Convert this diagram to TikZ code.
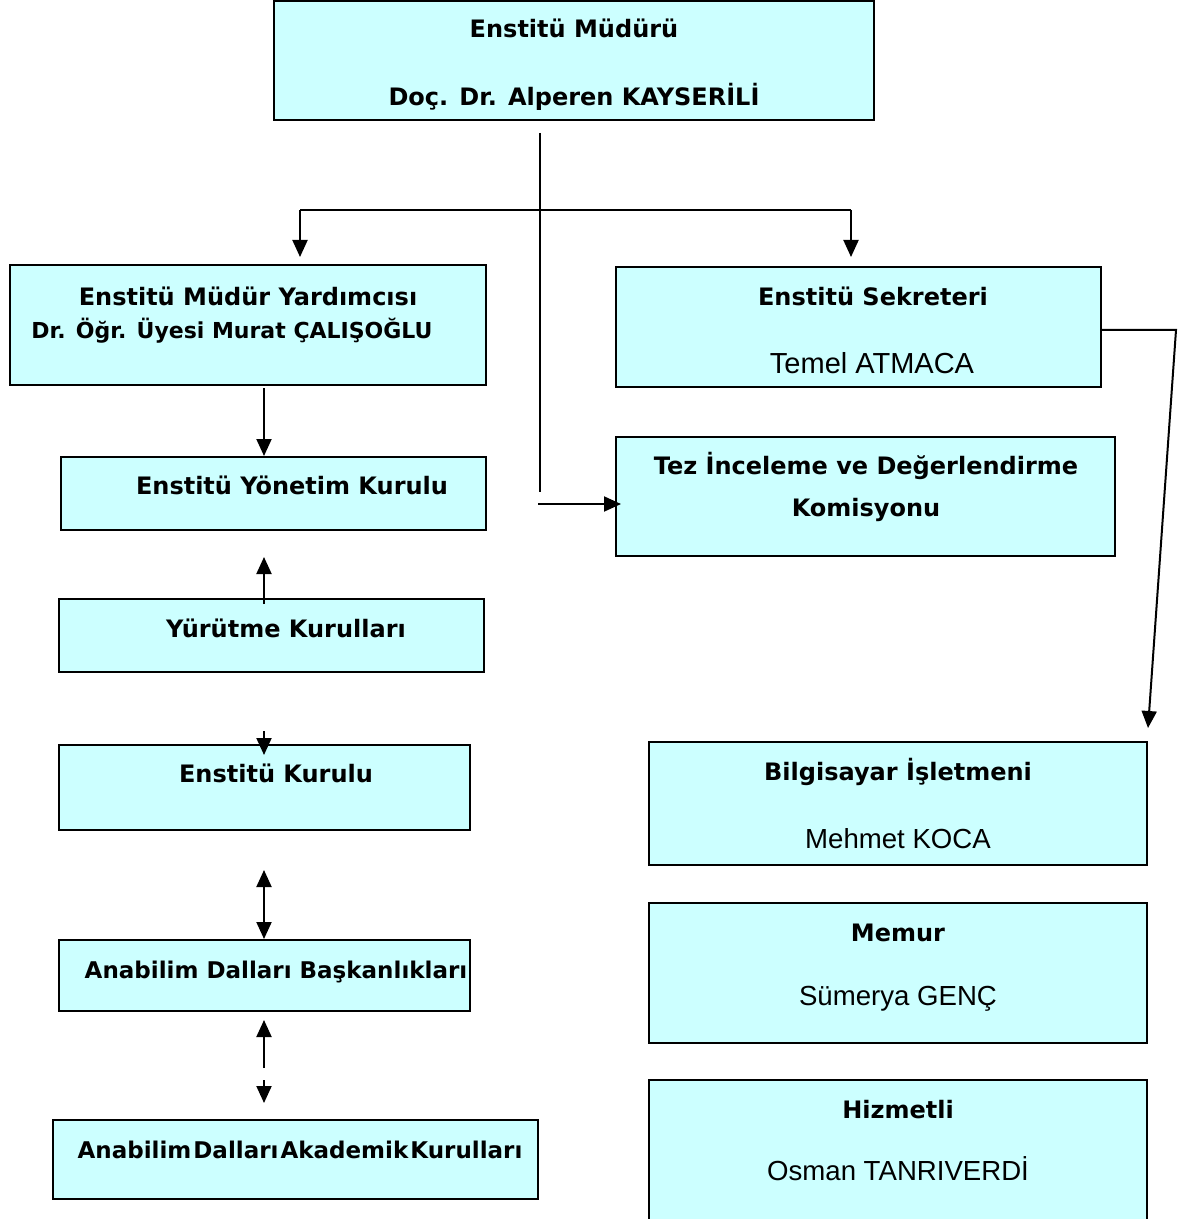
\documentclass[tikz,border=0pt]{standalone}
\usepackage{fontspec}
\setmainfont{DejaVu Sans}
\newfontfamily\arialf{Liberation Sans}
\usetikzlibrary{arrows.meta,fit}
\definecolor{boxfill}{HTML}{CCFFFF}
\begin{document}
\begin{tikzpicture}[x=0.5pt,y=-0.5pt,
  box/.style={draw=black, fill=boxfill, line width=1pt, inner sep=0pt},
  bt/.style={anchor=base, inner sep=0pt, font=\fontsize{12pt}{14pt}\selectfont\bfseries},
  bts/.style={anchor=base, inner sep=0pt, font=\fontsize{11pt}{13pt}\selectfont\bfseries},
  rt/.style={anchor=base, inner sep=0pt, font=\fontsize{13.8pt}{16pt}\selectfont\arialf},
  conn/.style={line width=1pt, draw=black},
  arr/.style={conn, -{Triangle[width=7.5pt,length=8.5pt]}},
  darr/.style={conn, {Triangle[width=7.5pt,length=8.5pt]}-{Triangle[width=7.5pt,length=8.5pt]}}]
\useasboundingbox (0,0) rectangle (1177,1219);

% boxes
\node[box, fit={(274,1) (874,120)}] (dir) {};
\node[box, fit={(10,265) (486,385)}] (yard) {};
\node[box, fit={(616,267) (1101,387)}] (sek) {};
\node[box, fit={(616,437) (1115,556)}] (tez) {};
\node[box, fit={(61,457) (486,530)}] (yon) {};
\node[box, fit={(59,599) (484,672)}] (yur) {};
\node[box, fit={(59,745) (470,830)}] (kur) {};
\node[box, fit={(59,940) (470,1011)}] (bas) {};
\node[box, fit={(53,1120) (538,1199)}] (aka) {};
\node[box, fit={(649,742) (1147,865)}] (bil) {};
\node[box, fit={(649,903) (1147,1043)}] (mem) {};
\begin{scope}
  \clip (0,0) rectangle (1177,1219);
  \node[box, fit={(649,1080) (1147,1230)}] (hiz) {};
\end{scope}

% texts
\node[bt] (dirA) at (574,38) {Enstitü Müdürü};
\node[bt] (dirB) at (574,106) {Doç. Dr. Alperen KAYSERİLİ};
\node[bt] (yardA) at (248,306) {Enstitü Müdür Yardımcısı};
\node[bts] (yardB) at (232,338) {Dr. Öğr. Üyesi Murat ÇALIŞOĞLU};
\node[bt] (sekA) at (873,306) {Enstitü Sekreteri};
\node[rt, font=\fontsize{14.5pt}{16pt}\selectfont\arialf] (sekB) at (872,373) {Temel ATMACA};
\node[bt] (tezA) at (866,474) {Tez İnceleme ve Değerlendirme};
\node[bt] (tezB) at (866,516) {Komisyonu};
\node[bt] (yonA) at (292,494) {Enstitü Yönetim Kurulu};
\node[bt] (yurA) at (286,637) {Yürütme Kurulları};
\node[bt] (kurA) at (276,782) {Enstitü Kurulu};
\node[bt, font=\fontsize{11.5pt}{14pt}\selectfont\bfseries] (basA) at (276,978) {Anabilim Dalları Başkanlıkları};
\node[bt, font=\fontsize{11.5pt}{14pt}\selectfont\bfseries] (akaA) at (300,1158) {Anabilim\hspace{1pt}Dalları\hspace{1pt}Akademik\hspace{1pt}Kurulları};
\node[bt] (bilA) at (898,780) {Bilgisayar İşletmeni};
\node[rt] (bilB) at (898,848) {Mehmet KOCA};
\node[bt] (memA) at (898,941) {Memur};
\node[rt] (memB) at (898,1005) {Sümerya GENÇ};
\node[bt] (hizA) at (898,1118) {Hizmetli};
\node[rt] (hizB) at (898,1180) {Osman TANRIVERDİ};

% connector points
\coordinate (hubTop) at (540,133);
\coordinate (hubBot) at (540,492);
\coordinate (brL) at (300,210);
\coordinate (brR) at (851,210);
\coordinate (tezIn) at (538,504);
\coordinate (sekOut) at (1176,330);
\coordinate (bilIn) at (1148,728);
\coordinate (c1) at (264,388);
\coordinate (c2) at (264,604);
\coordinate (c3) at (264,557);
\coordinate (c4) at (264,731);
\coordinate (c5) at (264,755);
\coordinate (c6) at (264,870);
\coordinate (c7) at (264,1068);
\coordinate (c8) at (264,1020);
\coordinate (c9) at (264,1080);
\coordinate (c10) at (264,1103);

% connectors
\draw[conn] (hubTop) -- (hubBot);
\draw[conn] (brL) -- (brR);
\draw[arr, shorten >=3.5pt] (brL) -- (brL |- yard.north);
\draw[arr, shorten >=4.5pt] (brR) -- (brR |- sek.north);
\draw[arr, shorten >=-3pt] (tezIn) -- (tezIn -| tez.west);
\draw[arr] (sek.east |- sekOut) -- (sekOut) -- (bilIn);
\draw[arr] (c1) -- (c1 |- yon.north);
\draw[arr] (c2) -- (c3);
\draw[arr] (c4) -- (c5);
\draw[darr] (c6) -- (c6 |- bas.north);
\draw[arr] (c7) -- (c8);
\draw[arr] (c9) -- (c10);
\end{tikzpicture}
\end{document}
